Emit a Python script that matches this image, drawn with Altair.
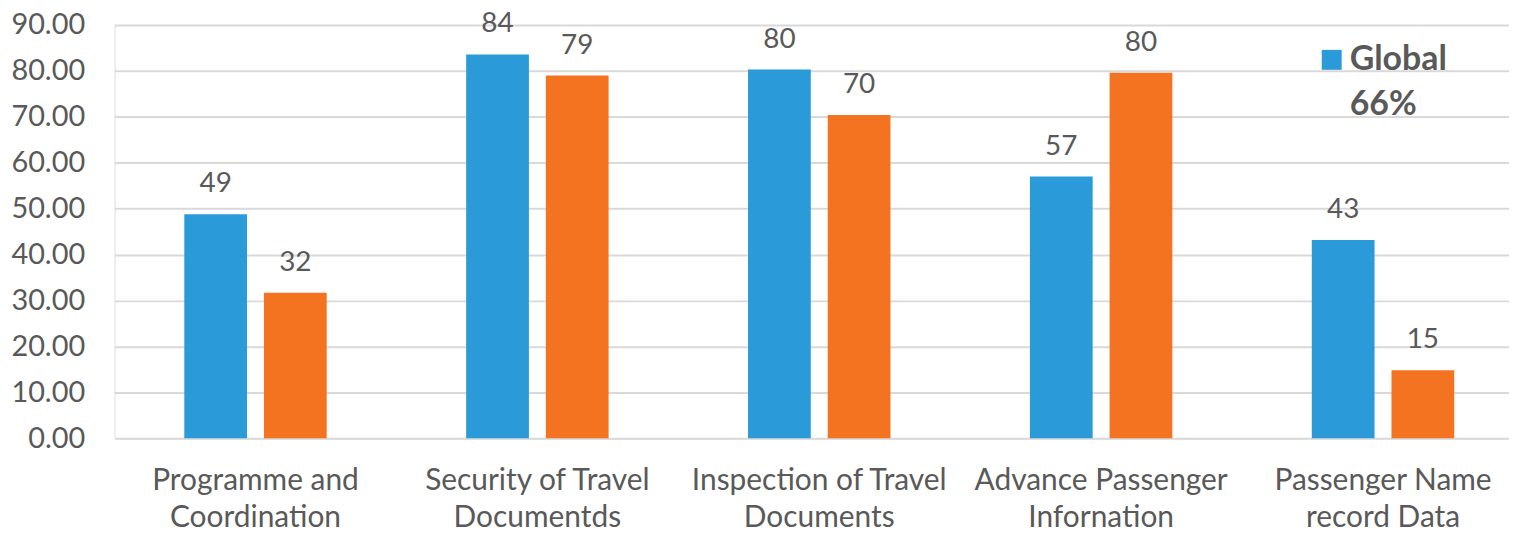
import altair as alt
import pandas as pd

categories = [
    "Programme and\nCoordination",
    "Security of Travel\nDocumentds",
    "Inspection of Travel\nDocuments",
    "Advance Passenger\nInfornation",
    "Passenger Name\nrecord Data",
]
series_names = ["Global", "Region"]
global_values = [48.8, 83.6, 80.3, 57.0, 43.2]
region_values = [31.7, 79.0, 70.4, 79.6, 14.8]
y_ticks = [0, 10, 20, 30, 40, 50, 60, 70, 80, 90]
legend_lines = ["Global", "66%"]

rows = []
for c, g, r in zip(categories, global_values, region_values):
    rows.append({"category": c, "series": series_names[0], "value": g})
    rows.append({"category": c, "series": series_names[1], "value": r})
df = pd.DataFrame(rows)

FONT = "Lato"
GRAY = "#595959"
colors = ["#2A9BD8", "#F37321"]

x_enc = alt.X(
    "category:N",
    sort=categories,
    scale=alt.Scale(paddingInner=0.4947, paddingOuter=0.2208, align=0.56),
    axis=alt.Axis(
        title=None,
        labelAngle=0,
        labelExpr="split(datum.label, '\\n')",
        labelFont=FONT,
        labelFontSize=30,
        labelColor=GRAY,
        labelLineHeight=38,
        labelPadding=27,
        labelLimit=0,
        ticks=False,
        domain=False,
        labelBaseline="top",
    ),
)
y_enc = alt.Y(
    "value:Q",
    scale=alt.Scale(domain=[0, 90], nice=False),
    axis=alt.Axis(
        title=None,
        values=y_ticks,
        format=".2f",
        labelFont=FONT,
        labelFontSize=29,
        labelColor=GRAY,
        labelPadding=30,
        ticks=False,
        domain=False,
        gridColor="#D9D9D9",
        gridWidth=2,
    ),
)
xoff = alt.XOffset(
    "series:N",
    sort=series_names,
    scale=alt.Scale(paddingInner=0.2125, paddingOuter=0),
)
color = alt.Color(
    "series:N",
    sort=series_names,
    scale=alt.Scale(domain=series_names, range=colors),
    legend=None,
)

base = alt.Chart(df).encode(x=x_enc, xOffset=xoff)
bars = base.mark_bar().encode(y=y_enc, color=color)
labels = base.mark_text(
    baseline="bottom", dy=-16, font=FONT, fontSize=28, color=GRAY
).encode(y="value:Q", text=alt.Text("value:Q", format=".0f"))

leg_df = pd.DataFrame({"line": legend_lines, "row": [0, 1]})
leg_square = alt.Chart(pd.DataFrame({"s": [series_names[0]]})).mark_square(
    size=400, color=colors[0], opacity=1
).encode(x=alt.value(1222), y=alt.value(35))
leg_text = alt.Chart(leg_df).mark_text(
    align="left", baseline="middle", font=FONT, fontSize=34, fontWeight="bold", color=GRAY
).encode(
    x=alt.value(1240),
    y=alt.value(35),
    text="line:N",
).transform_filter("datum.row == 0")
leg_text2 = alt.Chart(leg_df).mark_text(
    align="left", baseline="middle", font=FONT, fontSize=34, fontWeight="bold", color=GRAY
).encode(
    x=alt.value(1240),
    y=alt.value(80),
    text="line:N",
).transform_filter("datum.row == 1")

chart = (
    alt.layer(bars, labels, leg_square, leg_text, leg_text2)
    .properties(
        width=1400,
        height=415,
        autosize=alt.AutoSizeParams(type="none"),
        padding={"left": 107, "top": 16, "right": 0, "bottom": 94},
    )
    .configure_view(stroke=None)
    .configure(background="white")
)

chart.save("out.html", embed_options={"renderer": "svg", "actions": False})
